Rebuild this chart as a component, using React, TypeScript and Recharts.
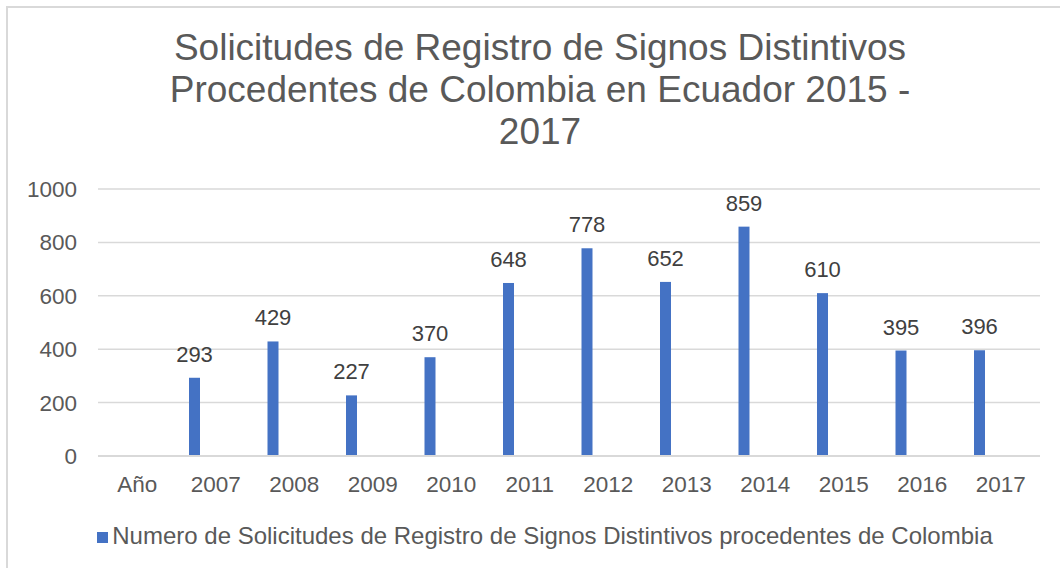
import React from "react";
import {
  Bar,
  BarChart,
  CartesianGrid,
  LabelList,
  Legend,
  XAxis,
  YAxis,
} from "recharts";

const categories = [
  "Año",
  "2007",
  "2008",
  "2009",
  "2010",
  "2011",
  "2012",
  "2013",
  "2014",
  "2015",
  "2016",
  "2017",
];

const solicitudes: (number | null)[] = [
  null, 293, 429, 227, 370, 648, 778, 652, 859, 610, 395, 396,
];

const yTicks = [0, 200, 400, 600, 800, 1000];

const titleLines = [
  "Solicitudes de Registro de Signos Distintivos",
  "Procedentes de Colombia en Ecuador 2015 -",
  "2017",
];

const seriesName =
  "Numero de Solicitudes de Registro de Signos Distintivos procedentes de Colombia";

const chartData = categories.map((c, i) => ({
  anio: c,
  valor: solicitudes[i],
}));

const FONT = '"Liberation Sans", Arial, sans-serif';
const BLUE = "#4472C4";
const GREY = "#595959";
const GRID = "#d9d9d9";
// Excel left the bars off-centre in each category
const SHIFT = -21.5;

const ShiftedBar = (props: any) => {
  const { x, y, width, height } = props;
  if (!height || height <= 0) return null;
  return <rect x={x + SHIFT} y={y} width={width} height={height} fill={BLUE} />;
};

const ValueLabel = (props: any) => {
  const { x, y, width, value } = props;
  if (value == null) return null;
  return (
    <text
      x={x + width / 2 + SHIFT}
      y={y - 16}
      textAnchor="middle"
      fill="#404040"
      fontSize={22}
      fontFamily={FONT}
    >
      {value}
    </text>
  );
};

export default function App() {
  return (
    <div
      style={{
        position: "absolute",
        left: 0,
        top: 0,
        width: 1060,
        height: 568,
        background: "#fff",
        fontFamily: FONT,
      }}
    >
      <div
        style={{
          position: "absolute",
          left: 6,
          top: 6,
          width: 1054,
          height: 562,
          borderTop: `2px solid ${GRID}`,
          borderLeft: `2px solid ${GRID}`,
        }}
      />
      <div
        style={{
          position: "absolute",
          left: 0,
          top: 27,
          width: 1080,
          textAlign: "center",
          fontSize: 37,
          lineHeight: "42px",
          color: GREY,
        }}
      >
        {titleLines.map((t) => (
          <div key={t}>{t}</div>
        ))}
      </div>
      <div style={{ position: "absolute", left: 0, top: 0 }}>
        <BarChart
          width={1060}
          height={568}
          data={chartData}
          margin={{ top: 189, right: 20, bottom: 18, left: 8 }}
          barSize={11}
        >
          <CartesianGrid
            vertical={false}
            stroke={GRID}
            strokeWidth={1.5}
          />
          <XAxis
            dataKey="anio"
            height={66}
            axisLine={{ stroke: GRID, strokeWidth: 2 }}
            tickLine={false}
            tickMargin={14}
            tick={{ fill: GREY, fontSize: 22.5, fontFamily: FONT }}
            interval={0}
          />
          <YAxis
            width={90}
            domain={[0, 1000]}
            ticks={yTicks}
            axisLine={false}
            tickLine={false}
            tickMargin={15}
            tick={{ fill: GREY, fontSize: 22.5, fontFamily: FONT }}
          />
          <Legend
            verticalAlign="bottom"
            iconType="square"
            iconSize={11}
            wrapperStyle={{ fontSize: 24, fontFamily: FONT, paddingLeft: 26 }}
            formatter={(v) => <span style={{ color: GREY }}>{v}</span>}
          />
          <Bar
            dataKey="valor"
            name={seriesName}
            fill={BLUE}
            shape={<ShiftedBar />}
            isAnimationActive={false}
          >
            <LabelList dataKey="valor" content={<ValueLabel />} />
          </Bar>
        </BarChart>
      </div>
    </div>
  );
}
